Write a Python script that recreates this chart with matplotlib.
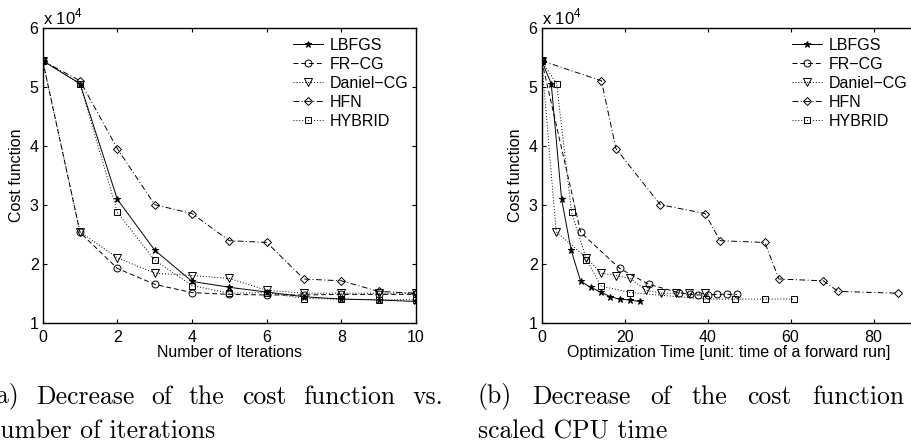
import numpy as np
import matplotlib
matplotlib.use("Agg")
import matplotlib.pyplot as plt

plt.rcParams['font.family'] = ['Liberation Sans', 'DejaVu Sans']
plt.rcParams['mathtext.fontset'] = 'custom'
plt.rcParams['mathtext.rm'] = 'Liberation Sans'

# cost function values (x 10^4) per iteration
iters = np.arange(11)
lbfgs = [5.44, 5.05, 3.09, 2.23, 1.70, 1.60, 1.52, 1.44, 1.40, 1.385, 1.36]
frcg = [5.44, 2.53, 1.92, 1.65, 1.51, 1.48, 1.47, 1.47, 1.48, 1.48, 1.48]
daniel = [5.44, 2.54, 2.10, 1.84, 1.80, 1.75, 1.55, 1.50, 1.50, 1.50, 1.50]
hfn = [5.44, 5.10, 3.95, 3.00, 2.85, 2.39, 2.36, 1.74, 1.71, 1.53, 1.50]
hybrid = [5.44, 5.05, 2.87, 2.06, 1.63, 1.50, 1.51, 1.41, 1.40, 1.39, 1.39]

# scaled CPU time of each iteration
t_lbfgs = [0, 2.3, 4.8, 7.1, 9.4, 11.8, 14.2, 16.5, 18.8, 21.3, 23.6]
t_frcg = [0, 9.4, 18.8, 25.8, 33.0, 35.7, 37.6, 40.0, 42.3, 44.7, 47.1]
t_daniel = [0, 3.5, 10.8, 14.3, 17.9, 21.4, 25.1, 28.7, 32.4, 35.6, 39.3]
t_hfn = [0, 14.4, 17.9, 28.6, 39.4, 43.0, 53.8, 57.2, 67.9, 71.5, 85.8]
t_hybrid = [0, 3.6, 7.2, 10.8, 14.3, 21.4, 39.5, 46.6, 53.8, 60.9]
hybrid_t = [5.44, 5.05, 2.87, 2.07, 1.62, 1.51, 1.40, 1.40, 1.40, 1.40]

labels = ['LBFGS', 'FR\u2212CG', 'Daniel\u2212CG', 'HFN', 'HYBRID']

styles = [
    dict(ls='-', marker='*', ms=5, mfc='k'),
    dict(ls=(0, (5, 3)), marker='o', ms=5, mfc='none'),
    dict(ls=(0, (1, 2)), marker='v', ms=5.5, mfc='none'),
    dict(ls=(0, (6, 2.5, 1, 2.5)), marker='D', ms=4.5, mfc='none'),
    dict(ls=(0, (1, 2)), marker='s', ms=4.5, mfc='none'),
]

fs = 11.5
W, H = 912, 447
fig = plt.figure(figsize=(W / 100, H / 100), dpi=100)
ax1 = fig.add_axes([42.7 / W, 1 - 322.7 / H, 373.3 / W, 295 / H])
ax2 = fig.add_axes([541.7 / W, 1 - 322.7 / H, 373.3 / W, 295 / H])


def draw(ax, xs, ys, xlim, xticks, xlabel):
    for x, y, lab, st in zip(xs, ys, labels, styles):
        ax.plot(x, y, color='k', lw=0.7, mew=0.7, mec='k', label=lab, **st)
    ax.set_xlim(*xlim)
    ax.set_ylim(1, 6)
    ax.set_xticks(xticks)
    ax.set_yticks([1, 2, 3, 4, 5, 6])
    ax.tick_params(direction='in', length=3, width=0.8, top=True, right=True,
                   labelsize=fs, pad=5.5)
    ax.tick_params(axis='y', pad=3)
    for s in ax.spines.values():
        s.set_linewidth(1.0)
    ax.set_xlabel(xlabel, fontsize=fs, labelpad=0)
    ax.set_ylabel('Cost function', fontsize=fs, labelpad=4)
    ax.text(0.0, 1.0, r'x 10$^{4}$', transform=ax.transAxes, fontsize=fs + 0.5,
            ha='left', va='bottom')
    ax.legend(loc='upper left', bbox_to_anchor=(0.67, 0.965), frameon=False,
              fontsize=fs, handlelength=1.9, handletextpad=0.4,
              labelspacing=0.25, borderpad=0, borderaxespad=0)


draw(ax1, [iters] * 5, [lbfgs, frcg, daniel, hfn, hybrid], (0, 10),
     range(0, 11, 2), 'Number of Iterations')
draw(ax2, [t_lbfgs, t_frcg, t_daniel, t_hfn, t_hybrid],
     [lbfgs, frcg, daniel, hfn, hybrid_t], (0, 90), range(0, 81, 20),
     'Optimization Time [unit: time of a forward run]')

# captions: first lines are justified, the page crop cuts the sides
cap = dict(family='cmr10', fontsize=18.5, va='baseline', ha='left')
renderer = fig.canvas.get_renderer()


def justify(words, x0, x1, base):
    texts = [fig.text(0, 1 - base / H, w, **cap) for w in words]
    widths = [t.get_window_extent(renderer).width for t in texts]
    gap = (x1 - x0 - sum(widths)) / (len(words) - 1)
    x = x0
    for t, w in zip(texts, widths):
        t.set_x(x / W)
        x += w + gap


justify(['(a)', 'Decrease', 'of', 'the', 'cost', 'function', 'vs.'], -14, 443, 403.5)
fig.text(-14 / W, 1 - 438.5 / H, 'number of iterations', **cap)
justify(['(b)', 'Decrease', 'of', 'the', 'cost', 'function'], 477.7, 904, 403.5)
fig.text(477.7 / W, 1 - 438.5 / H, 'scaled CPU time', **cap)

fig.savefig('out.png', dpi=100)
